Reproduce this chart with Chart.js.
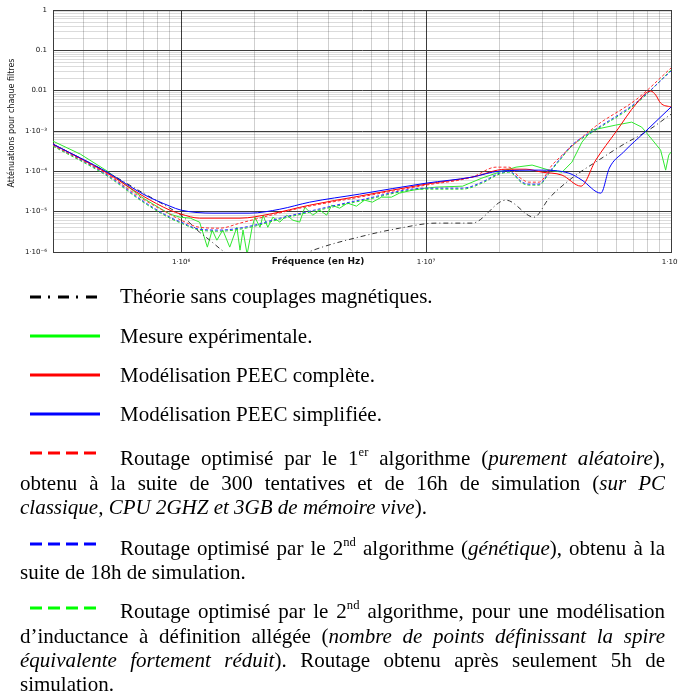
<!DOCTYPE html>
<html>
<head>
<meta charset="utf-8">
<script src="https://cdn.jsdelivr.net/npm/chart.js@4.4.0/dist/chart.umd.min.js"></script>
<style>
  body { margin: 0; background: #fff; width: 678px; height: 695px; position: relative; overflow: hidden;
         font-family: "Liberation Serif", "Times New Roman", serif; font-size: 21px; color: #000; }
  #plot { position: absolute; left: 0; top: 0; }
  #samples { position: absolute; left: 0; top: 0; pointer-events: none; }
  .ln { position: absolute; white-space: nowrap; line-height: 24px; height: 24px; }
  .j { text-align: justify; text-align-last: justify; white-space: normal; overflow: hidden; }
  sup { font-size: .6em; position: relative; top: -.75em; vertical-align: baseline; line-height: 0; }
</style>
</head>
<body>
<canvas id="plot" width="678" height="272"></canvas>

<svg id="samples" width="678" height="695">
  <line x1="30" y1="297" x2="100" y2="297" stroke="#000" stroke-width="3" stroke-dasharray="11 7 2 8"/>
  <line x1="30" y1="336" x2="100" y2="336" stroke="#00ff00" stroke-width="3"/>
  <line x1="30" y1="375" x2="100" y2="375" stroke="#ff0000" stroke-width="3"/>
  <line x1="30" y1="414" x2="100" y2="414" stroke="#0000ff" stroke-width="3"/>
  <line x1="30" y1="453" x2="98" y2="453" stroke="#ff0000" stroke-width="3" stroke-dasharray="12 6"/>
  <line x1="30" y1="544" x2="98" y2="544" stroke="#0000ff" stroke-width="3" stroke-dasharray="12 6"/>
  <line x1="30" y1="608" x2="98" y2="608" stroke="#00ff00" stroke-width="3" stroke-dasharray="12 6"/>
</svg>

<div class="ln" style="left:120px;top:284px">Théorie sans couplages magnétiques.</div>
<div class="ln" style="left:120px;top:324px">Mesure expérimentale.</div>
<div class="ln" style="left:120px;top:363px">Modélisation PEEC complète.</div>
<div class="ln" style="left:120px;top:402px">Modélisation PEEC simplifiée.</div>

<div class="ln j" style="left:120px;width:545px;top:446px">Routage optimisé par le 1<sup>er</sup> algorithme (<i>purement aléatoire</i>),</div>
<div class="ln j" style="left:20px;width:645px;top:471px">obtenu à la suite de 300 tentatives et de 16h de simulation (<i>sur PC</i></div>
<div class="ln" style="left:20px;top:495px"><i>classique, CPU 2GHZ et 3GB de mémoire vive</i>).</div>

<div class="ln j" style="left:120px;width:545px;top:536px">Routage optimisé par le 2<sup>nd</sup> algorithme (<i>génétique</i>), obtenu à la</div>
<div class="ln" style="left:20px;top:560px">suite de 18h de simulation.</div>

<div class="ln j" style="left:120px;width:545px;top:599px">Routage optimisé par le 2<sup>nd</sup> algorithme, pour une modélisation</div>
<div class="ln j" style="left:20px;width:645px;top:624px">d’inductance à définition allégée (<i>nombre de points définissant la spire</i></div>
<div class="ln j" style="left:20px;width:645px;top:648px"><i>équivalente fortement réduit</i>). Routage obtenu après seulement 5h de</div>
<div class="ln" style="left:20px;top:672px">simulation.</div>

<script>
// axis ticks (major decades only carry a label)
const xTickValues = [1e6, 1e7, 1e8];
const xTickLabels = ["1·10⁶", "1·10⁷", "1·10⁸"];
const yTickValues = [1, 0.1, 0.01, 1e-3, 1e-4, 1e-5, 1e-6];
const yTickLabels = ["1", "0.1", "0.01", "1·10⁻³", "1·10⁻⁴", "1·10⁻⁵", "1·10⁻⁶"];

// Théorie sans couplages magnétiques
const freqTheorie = [3.0e5, 5.0e5, 7.0e5, 9.0e5, 1.0e6, 1.19e6, 1.31e6, 1.47e6, 1.7e6, 2.0e6, 2.5e6, 3.0e6,
  3.45e6, 5.7e6, 7.8e6, 1.1e7, 1.54e7, 2.12e7, 2.76e7, 3.18e7, 3.94e7, 5.07e7, 6.53e7, 7.88e7, 1.0e8];
const valTheorie = [4.7e-4, 9.5e-5, 2.9e-5, 1.22e-5, 8.2e-6, 3.1e-6, 1.96e-6, 1.1e-6, 6e-7, 4.5e-7, 5e-7, 7.5e-7,
  1.1e-6, 2.6e-6, 3.9e-6, 5.2e-6, 5.2e-6, 1.93e-5, 7.3e-6, 2.16e-5, 6.8e-5, 1.9e-4, 5.0e-4, 9.4e-4, 2.6e-3];

// Mesure expérimentale
const freqMesure = [3.0e5, 3.88e5, 5.0e5, 7.0e5, 9.0e5, 9.9e5, 1.09e6, 1.19e6, 1.28e6, 1.34e6, 1.40e6, 1.48e6,
  1.58e6, 1.69e6, 1.74e6, 1.79e6, 1.86e6, 1.95e6, 2.0e6, 2.10e6, 2.16e6, 2.26e6, 2.37e6, 2.53e6, 2.70e6, 2.86e6,
  3.05e6, 3.20e6, 3.45e6, 3.68e6, 3.93e6, 4.12e6, 4.44e6, 4.78e6, 5.20e6, 5.61e6, 6.04e6, 6.58e6, 7.22e6, 7.79e6,
  8.80e6, 1.0e7, 1.10e7, 1.41e7, 1.69e7, 1.99e7, 2.33e7, 2.71e7, 3.18e7, 3.59e7, 3.94e7, 4.33e7, 4.75e7, 5.95e7,
  6.91e7, 7.59e7, 8.34e7, 9.07e7, 9.51e7, 9.79e7, 1.0e8];
const valMesure = [5.6e-4, 2.67e-4, 1.01e-4, 2.16e-5, 8.7e-6, 7.3e-6, 6.9e-6, 5.5e-6, 1.32e-6, 3.5e-6, 1.96e-6, 3.5e-6,
  1.32e-6, 4.1e-6, 1.11e-6, 3.5e-6, 8.7e-7, 4.1e-6, 7.3e-6, 4.1e-6, 8.2e-6, 4.1e-6, 7.3e-6, 5.5e-6, 8.2e-6, 6.15e-6,
  5.5e-6, 1.29e-5, 8.2e-6, 1.09e-5, 8.2e-6, 1.45e-5, 1.22e-5, 1.63e-5, 1.37e-5, 1.93e-5, 1.72e-5, 2.29e-5, 2.29e-5, 2.88e-5,
  3.41e-5, 3.83e-5, 4.06e-5, 4.29e-5, 6.78e-5, 9.55e-5, 1.27e-4, 1.43e-4, 1.07e-4, 9.55e-5, 1.69e-4, 5.3e-4, 1.05e-3, 1.40e-3,
  1.66e-3, 1.25e-3, 6.3e-4, 3.36e-4, 1.07e-4, 2.52e-4, 3.0e-4];

// Modélisation PEEC complète
const freqComplete = [3.0e5, 5.0e5, 7.0e5, 9.0e5, 1.0e6, 1.19e6, 1.74e6, 2.3e6, 3.35e6, 5.35e6, 1.0e7, 1.54e7,
  2.12e7, 2.56e7, 2.97e7, 3.59e7, 4.29e7, 4.93e7, 5.95e7, 7.25e7, 8.26e7, 8.66e7, 9.07e7, 1.0e8];
const valComplete = [4.73e-4, 9.0e-5, 2.43e-5, 1.09e-5, 8.7e-6, 6.9e-6, 6.9e-6, 8.7e-6, 1.45e-5, 2.43e-5, 4.81e-5, 7.18e-5,
  1.13e-4, 1.13e-4, 9.55e-5, 8.05e-5, 4.29e-5, 1.9e-4, 9.4e-4, 4.92e-3, 9.8e-3, 7.8e-3, 4.92e-3, 3.92e-3];

// Modélisation PEEC simplifiée
const freqSimplifiee = [3.0e5, 5.0e5, 7.0e5, 9.0e5, 1.0e6, 1.35e6, 1.91e6, 2.53e6, 3.35e6, 5.35e6, 1.0e7, 1.54e7,
  1.99e7, 2.89e7, 3.83e7, 4.33e7, 5.17e7, 5.6e7, 6.4e7, 7.9e7, 1.0e8];
const valSimplifiee = [4.73e-4, 9.5e-5, 2.72e-5, 1.37e-5, 1.09e-5, 9.2e-6, 9.2e-6, 1.15e-5, 1.72e-5, 2.72e-5, 5.09e-5, 7.18e-5,
  1.01e-4, 1.07e-4, 9.0e-5, 6.05e-5, 2.88e-5, 1.2e-4, 3.0e-4, 1.0e-3, 3.92e-3];

// Routage optimisé, 1er algorithme (aléatoire)
const freqAlgo1 = [3.0e5, 5.0e5, 7.0e5, 9.0e5, 1.0e6, 1.19e6, 1.44e6, 1.74e6, 2.16e6, 3.05e6, 5.35e6, 1.0e7,
  1.54e7, 1.93e7, 2.18e7, 2.40e7, 2.63e7, 2.89e7, 3.27e7, 3.49e7, 4.93e7, 7.25e7, 1.0e8];
const valAlgo1 = [4.47e-4, 8.5e-5, 2.04e-5, 8.7e-6, 6.15e-6, 4.1e-6, 3.9e-6, 5.2e-6, 7.3e-6, 1.22e-5, 2.29e-5, 4.55e-5,
  7.18e-5, 1.27e-4, 1.27e-4, 7.18e-5, 5.39e-5, 5.39e-5, 1.43e-4, 2.13e-4, 1.32e-3, 6.19e-3, 3.64e-2];

// Routage optimisé, 2nd algorithme (génétique) and allégé
const freqAlgo2 = [3.0e5, 5.0e5, 7.0e5, 9.0e5, 1.0e6, 1.19e6, 1.44e6, 1.91e6, 2.53e6, 3.35e6, 5.35e6, 1.0e7,
  1.41e7, 1.69e7, 1.99e7, 2.18e7, 2.47e7, 2.63e7, 2.89e7, 3.18e7, 3.49e7, 3.94e7, 4.93e7, 7.25e7, 1.0e8];
const valAlgo2 = [4.47e-4, 8.05e-5, 1.82e-5, 7.3e-6, 5.5e-6, 3.68e-6, 3.5e-6, 4.37e-6, 6.9e-6, 1.03e-5, 1.93e-5, 3.83e-5,
  3.83e-5, 5.39e-5, 9.0e-5, 1.01e-4, 5.39e-5, 4.81e-5, 4.81e-5, 9.55e-5, 1.9e-4, 4.47e-4, 1.11e-3, 5.21e-3, 3.06e-2];
const valAlgo2Allege = [4.22e-4, 7.6e-5, 1.72e-5, 6.9e-6, 5.2e-6, 3.5e-6, 3.28e-6, 4.1e-6, 6.5e-6, 9.7e-6, 1.82e-5, 3.62e-5,
  3.62e-5, 5.09e-5, 8.5e-5, 9.55e-5, 5.09e-5, 4.55e-5, 4.55e-5, 9.0e-5, 1.79e-4, 4.22e-4, 1.05e-3, 4.92e-3, 3.25e-2];

function pts(freqs, vals) {
  return freqs.map((f, i) => ({ x: f, y: vals[i] }));
}

function isDecade(v) {
  const l = Math.log10(v);
  return Math.abs(l - Math.round(l)) < 1e-9;
}

// 1..9 per decade, kept inside [min, max]
function decadeTicks(min, max) {
  const ticks = [];
  for (let e = Math.floor(Math.log10(min)); e <= Math.ceil(Math.log10(max)); e++) {
    for (let k = 1; k < 10; k++) {
      const v = k * Math.pow(10, e);
      if (v >= min * 0.999999 && v <= max * 1.000001) ticks.push({ value: v });
    }
  }
  return ticks;
}

function labelFor(values, labels, v) {
  const i = values.findIndex(t => Math.abs(Math.log10(t) - Math.log10(v)) < 1e-6);
  return i >= 0 ? labels[i] : "";
}

const axisTitles = {
  id: "axisTitles",
  afterDraw(chart) {
    const c = chart.ctx;
    c.save();
    c.fillStyle = "#111";
    c.textAlign = "center";
    c.textBaseline = "middle";
    c.font = 'bold 9px "DejaVu Sans"';
    c.fillText("Fréquence (en Hz)", 318, 262);
    c.translate(12, 123);
    c.rotate(-Math.PI / 2);
    c.font = '8px "DejaVu Sans"';
    c.fillText("Atténuations pour chaque filtres", 0, 0);
    c.restore();
  },
};

const base = { pointRadius: 0, fill: false, borderWidth: 1, cubicInterpolationMode: "monotone" };

new Chart(document.getElementById("plot"), {
  type: "line",
  data: {
    datasets: [
      { ...base, label: "Modélisation PEEC simplifiée", data: pts(freqSimplifiee, valSimplifiee), borderColor: "#0000ff" },
      { ...base, label: "Modélisation PEEC complète", data: pts(freqComplete, valComplete), borderColor: "#ff0000" },
      { ...base, label: "Théorie sans couplages magnétiques", data: pts(freqTheorie, valTheorie), borderColor: "#333333", borderDash: [5, 3, 1, 3] },
      { ...base, label: "Routage 1er algorithme", data: pts(freqAlgo1, valAlgo1), borderColor: "#ff3030", borderDash: [3, 2] },
      { ...base, label: "Routage 2nd algorithme", data: pts(freqAlgo2, valAlgo2), borderColor: "#3030ff", borderDash: [3, 2] },
      { ...base, label: "Routage 2nd algorithme allégé", data: pts(freqAlgo2, valAlgo2Allege), borderColor: "#20e020", borderDash: [3, 2] },
      { ...base, label: "Mesure expérimentale", data: pts(freqMesure, valMesure), borderColor: "#30e830", cubicInterpolationMode: "default", tension: 0 },
    ],
  },
  options: {
    responsive: false,
    animation: false,
    devicePixelRatio: 1,
    layout: { padding: { top: 10, right: 7, left: 0, bottom: 0 } },
    plugins: { legend: { display: false }, tooltip: { enabled: false } },
    scales: {
      x: {
        type: "logarithmic",
        min: 3e5,
        max: 1e8,
        afterBuildTicks: s => { s.ticks = decadeTicks(s.min, s.max); },
        afterFit: s => { s.height = 20; s.paddingLeft = 0; s.paddingRight = 0; },
        grid: {
          drawTicks: false,
          lineWidth: 1,
          color: ctx => (ctx.tick && isDecade(ctx.tick.value) ? "#3c3c3c" : "rgba(0,0,0,0.19)"),
        },
        border: { display: true, color: "#3c3c3c" },
        ticks: {
          autoSkip: false,
          maxRotation: 0,
          padding: 6,
          color: "#111",
          font: { family: "DejaVu Sans", size: 7 },
          callback: v => labelFor(xTickValues, xTickLabels, v),
        },
      },
      y: {
        type: "logarithmic",
        min: 1e-6,
        max: 1,
        afterBuildTicks: s => { s.ticks = decadeTicks(s.min, s.max); },
        afterFit: s => { s.width = 53; s.paddingTop = 0; s.paddingBottom = 0; },
        grid: {
          drawTicks: false,
          lineWidth: 1,
          color: ctx => (ctx.tick && isDecade(ctx.tick.value) ? "#3c3c3c" : "rgba(0,0,0,0.14)"),
        },
        border: { display: true, color: "#3c3c3c" },
        ticks: {
          autoSkip: false,
          padding: 6,
          color: "#111",
          font: { family: "DejaVu Sans", size: 7 },
          callback: v => labelFor(yTickValues, yTickLabels, v),
        },
      },
    },
  },
  plugins: [axisTitles],
});
</script>
</body>
</html>
